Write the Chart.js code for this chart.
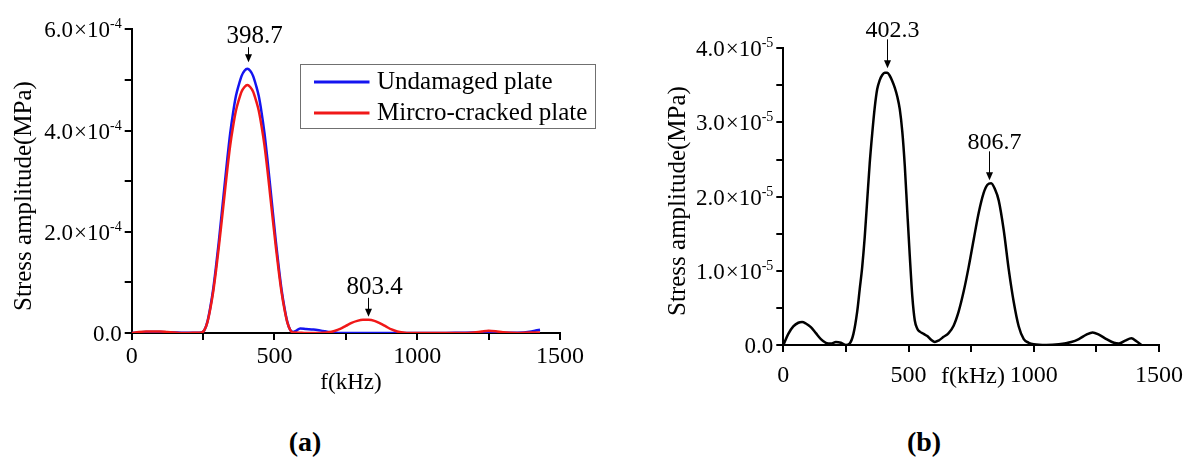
<!DOCTYPE html>
<html>
<head>
<meta charset="utf-8">
<script src="https://cdn.jsdelivr.net/npm/chart.js@4/dist/chart.umd.min.js"></script>
<style>
html,body{margin:0;padding:0;background:#fff;}
body{width:1192px;height:461px;position:relative;overflow:hidden;font-family:"Liberation Serif","Times New Roman",serif;color:#000;}
#wa{position:absolute;left:0;top:0;width:600px;height:400px;}
#wb{position:absolute;left:600px;top:0;width:592px;height:400px;}
.cap{position:absolute;font-size:28px;line-height:28px;font-weight:bold;transform:translateX(-50%);white-space:nowrap;}
</style>
</head>
<body>
<div id="wa"><canvas id="ca" width="600" height="400"></canvas></div>
<div id="wb"><canvas id="cb" width="592" height="400"></canvas></div>
<div class="cap" id="capA" style="left:305px;top:428px"></div>
<div class="cap" id="capB" style="left:924px;top:428px"></div>
<script>
const FONT = '"Liberation Serif", "Times New Roman", serif';

// ---------- shared texts ----------
const yTitle = 'Stress amplitude(MPa)';
const xTitle = 'f(kHz)';
const xTickLabels = [0, 500, 1000, 1500];
const captionLetters = ['a', 'b'];

// ---------- panel (a) ----------
const UNIT_A = 1e-4;          // values below are in units of 10^-4 MPa
const EXP_A = -4;
const yMaxA = 6;
const yMajorStepA = 2;
const seriesNamesA = ['Undamaged plate', 'Mircro-cracked plate'];
const freqA = [0,25,50,75,100,125,150,175,200,225,
  245,255,265,275,285,295,305,315,325,335,
  345,355,365,375,385,395,405,415,425,435,
  445,455,465,475,485,495,505,515,525,535,
  545,555,565,575,590,610,630,650,670,690,
  710,730,750,770,790,810,830,850,870,890,
  910,930,950,975,1000,1050,1100,1150,1200,1225,
  1250,1275,1300,1350,1400,1415,1430];
const undamagedA = [0.0,0.01,0.02,0.02,0.02,0.015,0.01,0.005,0.005,0.005,
  0.01,0.06,0.22,0.5,0.85,1.3,1.8,2.35,2.9,3.45,
  3.95,4.35,4.68,4.9,5.08,5.18,5.22,5.18,5.08,4.9,
  4.68,4.35,3.95,3.45,2.9,2.35,1.8,1.3,0.85,0.5,
  0.22,0.06,0.02,0.04,0.09,0.08,0.07,0.06,0.04,0.02,
  0.01,0.0,0.0,0.0,0.0,0.0,0.0,0.0,0.0,0.0,
  0.0,0.0,0.0,0.0,0.0,0.0,0.0,0.005,0.01,0.01,
  0.015,0.01,0.005,0.005,0.03,0.05,0.065];
const crackedA = [0.0,0.02,0.03,0.03,0.03,0.02,0.01,0.0,0.0,0.005,
  0.01,0.06,0.21,0.47,0.8,1.22,1.69,2.2,2.72,3.24,
  3.71,4.08,4.39,4.6,4.77,4.86,4.9,4.86,4.77,4.6,
  4.39,4.08,3.71,3.24,2.72,2.2,1.69,1.22,0.8,0.47,
  0.21,0.06,0.01,0.01,0.005,0.0,0.0,0.0,0.005,0.015,
  0.04,0.08,0.14,0.2,0.24,0.26,0.26,0.24,0.19,0.13,
  0.07,0.03,0.01,0.0,0.0,0.0,0.0,0.0,0.01,0.03,
  0.045,0.035,0.015,0.0,0.01,0.01,0.01];
const peakLabelsA = ['398.7', '803.4'];
const peakFreqA = [408, 829];
const peakTipA = [5.35, 0.32];

// ---------- panel (b) ----------
const UNIT_B = 1e-5;          // values below are in units of 10^-5 MPa
const EXP_B = -5;
const yMaxB = 4;
const yMajorStepB = 1;
const freqB = [0,20,40,60,75,90,110,130,150,170,
  190,210,230,250,265,280,295,305,315,325,
  335,345,355,365,375,385,395,405,415,425,
  435,445,455,465,475,485,495,505,515,525,
  535,545,560,575,590,605,620,640,660,680,
  700,720,740,760,780,800,815,830,845,860,
  880,900,920,940,960,980,1000,1050,1100,1150,
  1180,1210,1235,1260,1290,1320,1340,1365,1390,1410,
  1430];
const ampB = [0.0,0.15,0.25,0.3,0.31,0.29,0.24,0.16,0.08,0.03,
  0.02,0.04,0.03,0.0,0.02,0.15,0.45,0.75,1.05,1.45,
  1.95,2.45,2.85,3.2,3.45,3.57,3.64,3.67,3.67,3.63,
  3.56,3.47,3.35,3.18,2.88,2.42,1.8,1.2,0.66,0.33,
  0.22,0.18,0.15,0.12,0.07,0.04,0.06,0.11,0.16,0.26,
  0.45,0.72,1.05,1.42,1.78,2.05,2.16,2.18,2.1,1.95,
  1.55,1.02,0.58,0.25,0.08,0.03,0.01,0.0,0.01,0.04,
  0.08,0.14,0.17,0.14,0.08,0.03,0.02,0.06,0.09,0.05,
  0.0];
const peakLabelsB = ['402.3', '806.7'];
const peakFreqB = [415, 821];
const peakTipB = [3.73, 2.22];

// ---------- plugins ----------
const peakPlugin = {
  id: 'peaks',
  afterDatasetsDraw(chart, args, o) {
    const {ctx} = chart;
    const xs = chart.scales.x, ys = chart.scales.y;
    ctx.save();
    ctx.fillStyle = '#000';
    ctx.strokeStyle = '#000';
    ctx.font = o.size + 'px ' + FONT;
    ctx.textAlign = 'center';
    ctx.textBaseline = 'alphabetic';
    o.items.forEach(it => {
      const px = Math.round(xs.getPixelForValue(it.x)) + 0.5;
      const tip = ys.getPixelForValue(it.y);
      const top = tip - it.len;
      ctx.lineWidth = 1;
      ctx.beginPath(); ctx.moveTo(px, top); ctx.lineTo(px, tip - 6); ctx.stroke();
      ctx.beginPath(); ctx.moveTo(px - 3.5, tip - 8); ctx.lineTo(px + 3.5, tip - 8); ctx.lineTo(px, tip); ctx.closePath(); ctx.fill();
      ctx.fillText(it.text, px + o.dx, top - o.gap);
    });
    ctx.restore();
  }
};

// y tick labels in the form "6.0×10^-4" with a real raised exponent
const yLabelPlugin = {
  id: 'yLabels',
  afterDraw(chart, args, o) {
    const ys = chart.scales.y;
    const ctx = chart.ctx;
    const mainFont = o.size + 'px ' + FONT;
    const supFont = o.supSize + 'px ' + FONT;
    ctx.save();
    ctx.fillStyle = '#000';
    ctx.textBaseline = 'alphabetic';
    ctx.textAlign = 'left';
    ys.ticks.forEach(t => {
      const k = Math.round(t.value / o.unit * 10) / 10;
      if (Math.round(k * 10) % Math.round(o.major * 10) !== 0) return;
      const py = ys.getPixelForValue(t.value);
      const right = chart.chartArea.left - o.gap;
      const base = py + o.baseShift;
      if (k === 0) {
        ctx.font = mainFont;
        ctx.textAlign = 'right';
        ctx.fillText('0.0', right, base);
        ctx.textAlign = 'left';
        return;
      }
      const num = k.toFixed(1), times = '\u00D7', ten = '10', ex = String(o.exp);
      ctx.font = mainFont;
      const wNum = ctx.measureText(num).width, wT = ctx.measureText(times).width, wTen = ctx.measureText(ten).width;
      ctx.font = supFont;
      const wEx = ctx.measureText(ex).width;
      const total = wNum + o.gap1 + wT + o.gap2 + wTen + wEx;
      let x0 = right - total;
      ctx.font = mainFont;
      ctx.fillText(num, x0, base); x0 += wNum + o.gap1;
      ctx.fillText(times, x0, base); x0 += wT + o.gap2;
      ctx.fillText(ten, x0, base); x0 += wTen;
      ctx.font = supFont;
      ctx.fillText(ex, x0, base - o.supRaise);
    });
    ctx.restore();
  }
};

const titlePlugin = {
  id: 'axisTitles',
  afterDraw(chart, args, o) {
    const ctx = chart.ctx;
    ctx.save();
    ctx.fillStyle = '#000';
    ctx.textAlign = 'center';
    ctx.textBaseline = 'middle';
    ctx.font = o.xSize + 'px ' + FONT;
    ctx.fillText(o.xText, o.xcx, o.xcy);
    ctx.font = o.ySize + 'px ' + FONT;
    ctx.translate(o.ycx, o.ycy);
    ctx.rotate(-Math.PI / 2);
    ctx.fillText(o.yText, 0, 0);
    ctx.restore();
  }
};

const boxLegend = {
  id: 'boxLegend',
  afterDraw(chart, args, o) {
    if (!o.show) return;
    const ctx = chart.ctx;
    ctx.save();
    ctx.fillStyle = '#fff';
    ctx.fillRect(o.left, o.top, o.width, o.height);
    ctx.strokeStyle = o.borderColor;
    ctx.lineWidth = 1;
    ctx.strokeRect(o.left + 0.5, o.top + 0.5, o.width, o.height);
    ctx.font = o.size + 'px ' + FONT;
    ctx.textBaseline = 'middle';
    ctx.textAlign = 'left';
    chart.data.datasets.forEach((ds, i) => {
      const yy = o.top + o.firstRow + i * o.rowGap;
      ctx.strokeStyle = ds.borderColor;
      ctx.lineWidth = o.lineWidth;
      ctx.beginPath(); ctx.moveTo(o.left + o.lineStart, yy); ctx.lineTo(o.left + o.lineEnd, yy); ctx.stroke();
      ctx.fillStyle = '#000';
      ctx.fillText(ds.label, o.left + o.textStart, yy);
    });
    ctx.restore();
  }
};

function xScale(xHeight, pad) {
  return {
    type: 'linear', min: 0, max: 1500,
    border: {display: true, color: '#000', width: 2},
    grid: {display: true, drawOnChartArea: false, drawTicks: true, tickLength: 7, color: '#000', lineWidth: 2},
    ticks: {stepSize: 250, autoSkip: false, maxRotation: 0, padding: pad, color: '#000',
      font: {family: FONT, size: 24},
      callback: v => xTickLabels.includes(v) ? String(v) : ''},
    afterFit: s => { s.height = xHeight; }
  };
}
function yScale(yWidth, unit, max, minorStep) {
  return {
    type: 'linear', min: 0, max: max * unit,
    border: {display: true, color: '#000', width: 2},
    grid: {display: true, drawOnChartArea: false, drawTicks: true, tickLength: 7, color: '#000', lineWidth: 2},
    ticks: {stepSize: minorStep * unit, autoSkip: false, display: false},
    afterFit: s => { s.width = yWidth; }
  };
}

// ---------- chart (a) ----------
new Chart(document.getElementById('ca'), {
  type: 'line',
  data: {
    datasets: [
      {label: seriesNamesA[0], data: freqA.map((f, i) => ({x: f, y: undamagedA[i] * UNIT_A})),
       borderColor: '#1414f0', borderWidth: 2.5, pointRadius: 0, cubicInterpolationMode: 'monotone', fill: false, order: 1},
      {label: seriesNamesA[1], data: freqA.map((f, i) => ({x: f, y: crackedA[i] * UNIT_A})),
       borderColor: '#f01818', borderWidth: 2.5, pointRadius: 0, cubicInterpolationMode: 'monotone', fill: false, order: 0}
    ]
  },
  options: {
    responsive: false, animation: false, events: [],
    layout: {padding: {left: 0, top: 29.3, right: 40, bottom: 0}},
    scales: {x: xScale(67, 2), y: yScale(131.7, UNIT_A, yMaxA, 1)},
    plugins: {
      legend: {display: false}, tooltip: {enabled: false},
      peaks: {size: 25, dx: 6, gap: 4, items: peakLabelsA.map((t, i) => ({text: t, x: peakFreqA[i], y: peakTipA[i] * UNIT_A, len: i === 0 ? 15 : 19}))},
      yLabels: {unit: UNIT_A, exp: EXP_A, major: yMajorStepA, size: 23, supSize: 14, gap: 10, gap1: 1, gap2: 0, baseShift: 8, supRaise: 9},
      axisTitles: {xText: xTitle, xSize: 23, xcx: 351, xcy: 383, yText: yTitle, ySize: 25, ycx: 24, ycy: 196},
      boxLegend: {show: true, left: 300, top: 64, width: 295, height: 64, borderColor: '#707070', size: 25,
        firstRow: 18, rowGap: 31, lineStart: 14, lineEnd: 69.5, textStart: 77, lineWidth: 3}
    }
  },
  plugins: [peakPlugin, yLabelPlugin, titlePlugin, boxLegend]
});

// ---------- chart (b) ----------
new Chart(document.getElementById('cb'), {
  type: 'line',
  data: {
    datasets: [
      {label: 'b', data: freqB.map((f, i) => ({x: f, y: ampB[i] * UNIT_B})),
       borderColor: '#000', borderWidth: 2.5, pointRadius: 0, cubicInterpolationMode: 'monotone', fill: false}
    ]
  },
  options: {
    responsive: false, animation: false, events: [],
    layout: {padding: {left: 0, top: 48.3, right: 30.7, bottom: 0}},
    scales: {x: xScale(55, 9), y: yScale(183.3, UNIT_B, yMaxB, 0.5)},
    plugins: {
      legend: {display: false}, tooltip: {enabled: false},
      peaks: {size: 24, dx: 5, gap: 2, items: peakLabelsB.map((t, i) => ({text: t, x: peakFreqB[i], y: peakTipB[i] * UNIT_B, len: 29}))},
      yLabels: {unit: UNIT_B, exp: EXP_B, major: yMajorStepB, size: 23, supSize: 14, gap: 10, gap1: 1, gap2: 0, baseShift: 8, supRaise: 9},
      axisTitles: {xText: xTitle, xSize: 24, xcx: 373, xcy: 377, yText: yTitle, ySize: 25, ycx: 78, ycy: 201},
      boxLegend: {show: false}
    }
  },
  plugins: [peakPlugin, yLabelPlugin, titlePlugin, boxLegend]
});

// captions
document.getElementById('capA').textContent = '(' + captionLetters[0] + ')';
document.getElementById('capB').textContent = '(' + captionLetters[1] + ')';
</script>
</body>
</html>
